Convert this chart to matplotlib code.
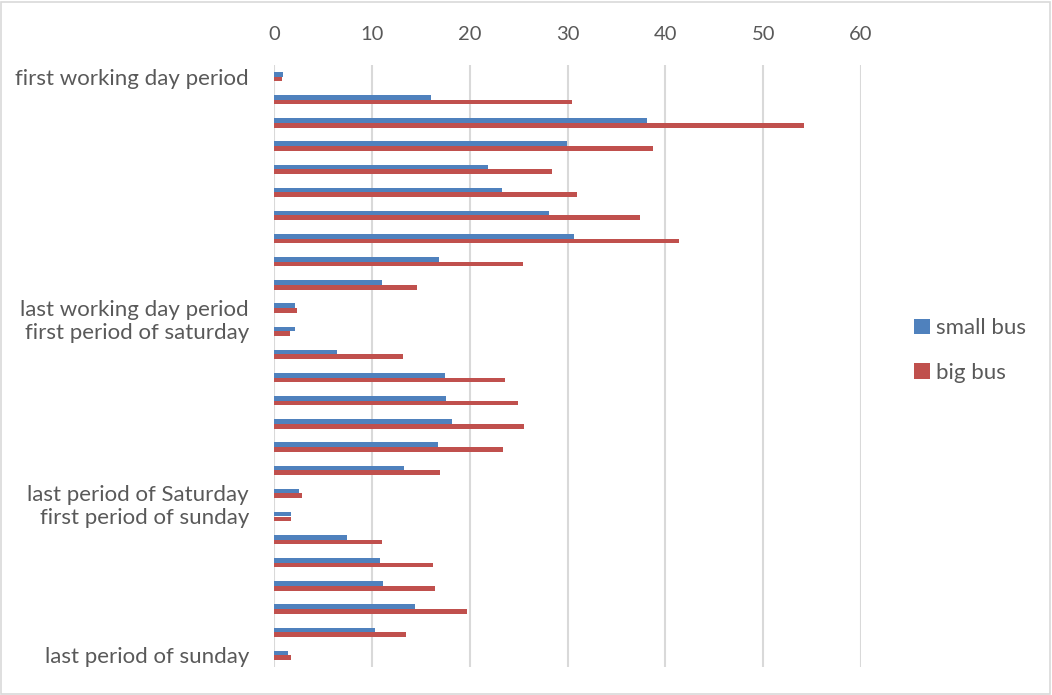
import numpy as np
import matplotlib
matplotlib.use("Agg")
import matplotlib.pyplot as plt
from matplotlib.patches import Rectangle

plt.rcParams['font.family'] = ['Lato', 'DejaVu Sans']

# 26 periods, only some are labelled
labels = ["first working day period", "", "", "", "", "", "", "", "", "",
          "last working day period", "first period of saturday",
          "", "", "", "", "", "",
          "last period of Saturday", "first period of sunday",
          "", "", "", "", "", "last period of sunday"]

small_bus = [0.9, 16.0, 38.1, 29.9, 21.9, 23.3, 28.1, 30.7, 16.9, 11.0,
             2.15, 2.1, 6.4, 17.5, 17.6, 18.2, 16.8, 13.3,
             2.6, 1.7, 7.5, 10.8, 11.1, 14.4, 10.3, 1.4]
big_bus = [0.8, 30.5, 54.2, 38.7, 28.4, 31.0, 37.4, 41.4, 25.5, 14.6,
           2.4, 1.6, 13.2, 23.6, 24.9, 25.6, 23.4, 17.0,
           2.9, 1.7, 11.0, 16.3, 16.5, 19.7, 13.5, 1.7]

x_ticks = [0, 10, 20, 30, 40, 50, 60]

blue = '#4F81BD'
red = '#C0504D'
txt = '#595959'

fig = plt.figure(figsize=(10.52, 6.95), dpi=100)
ax = fig.add_axes([274/1052, 1 - 667/695, (861 - 274)/1052, (667 - 65)/695])

y = np.arange(len(labels))
h = 0.2
ax.barh(y - h/2, small_bus, height=h, color=blue, label='small bus', zorder=3)
ax.barh(y + h/2, big_bus, height=h, color=red, label='big bus', zorder=3)

ax.set_xlim(0, 60)
ax.set_ylim(len(labels) - 0.5, -0.5)
ax.set_xticks(x_ticks)
ax.set_yticks(y)
ax.set_yticklabels(labels)
ax.xaxis.tick_top()
ax.tick_params(axis='both', length=0, colors=txt)
ax.tick_params(axis='x', pad=16, labelsize=14.5)
ax.tick_params(axis='y', pad=18, labelsize=16)
ax.grid(axis='x', color='#d9d9d9', linewidth=1.5, zorder=0)
for s in ax.spines.values():
    s.set_visible(False)

leg = fig.legend(loc='center left', bbox_to_anchor=(0.85, 0.496), frameon=False,
                 fontsize=16, handlelength=0.7, handleheight=0.7,
                 handletextpad=0.3, labelspacing=1.1, labelcolor=txt)

# light chart-area border
fig.patches.append(Rectangle((0.001, 0.002), 0.997, 0.995, transform=fig.transFigure,
                             fill=False, edgecolor='#d9d9d9', linewidth=1.2))

fig.savefig('out.png', dpi=100)
